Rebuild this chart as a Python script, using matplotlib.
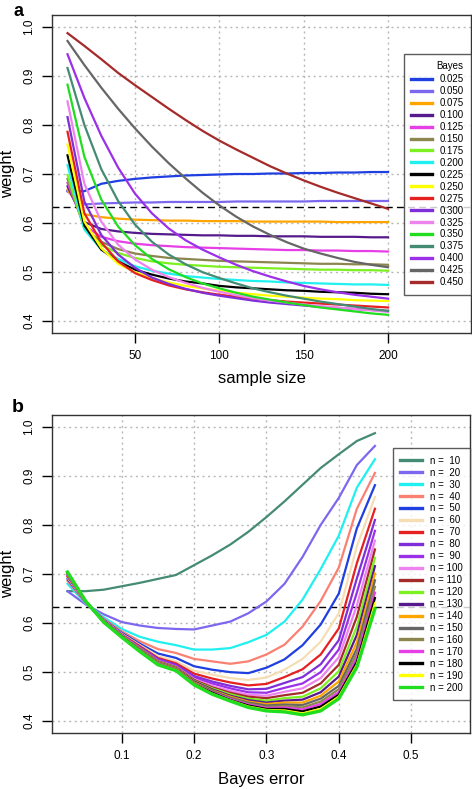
import matplotlib
matplotlib.use("Agg")
import matplotlib.pyplot as plt

plt.rcParams["font.family"] = ["Liberation Sans", "DejaVu Sans"]

sample_sizes = [10, 20, 30, 40, 50, 60, 70, 80, 90, 100,
                110, 120, 130, 140, 150, 160, 170, 180, 190, 200]
bayes_errors = [0.025, 0.05, 0.075, 0.1, 0.125, 0.15, 0.175, 0.2, 0.225,
                0.25, 0.275, 0.3, 0.325, 0.35, 0.375, 0.4, 0.425, 0.45]

# weight per Bayes error, one value per sample size (10..200)
w_025 = [0.665, 0.665, 0.680, 0.686, 0.690, 0.693, 0.695, 0.697, 0.698, 0.699,
         0.700, 0.700, 0.701, 0.701, 0.702, 0.702, 0.703, 0.703, 0.704, 0.704]
w_050 = [0.665, 0.638, 0.640, 0.641, 0.642, 0.642, 0.643, 0.643, 0.643, 0.643,
         0.644, 0.644, 0.644, 0.644, 0.644, 0.645, 0.645, 0.645, 0.645, 0.645]
w_075 = [0.668, 0.618, 0.612, 0.609, 0.607, 0.606, 0.605, 0.605, 0.604, 0.604,
         0.604, 0.603, 0.603, 0.603, 0.603, 0.603, 0.602, 0.602, 0.602, 0.602]
w_100 = [0.675, 0.602, 0.588, 0.583, 0.580, 0.578, 0.577, 0.576, 0.575, 0.575,
         0.574, 0.574, 0.573, 0.573, 0.573, 0.572, 0.572, 0.572, 0.571, 0.571]
w_125 = [0.682, 0.595, 0.572, 0.563, 0.558, 0.555, 0.553, 0.551, 0.550, 0.549,
         0.548, 0.547, 0.546, 0.545, 0.545, 0.544, 0.544, 0.543, 0.543, 0.542]
w_150 = [0.690, 0.590, 0.562, 0.547, 0.538, 0.533, 0.529, 0.527, 0.525, 0.523,
         0.522, 0.521, 0.520, 0.519, 0.518, 0.517, 0.517, 0.516, 0.516, 0.515]
w_175 = [0.698, 0.588, 0.555, 0.539, 0.529, 0.522, 0.518, 0.515, 0.513, 0.511,
         0.510, 0.509, 0.508, 0.507, 0.506, 0.505, 0.505, 0.504, 0.504, 0.503]
w_200 = [0.718, 0.587, 0.546, 0.527, 0.512, 0.503, 0.497, 0.492, 0.489, 0.486,
         0.484, 0.482, 0.481, 0.479, 0.478, 0.477, 0.476, 0.475, 0.475, 0.474]
w_225 = [0.738, 0.595, 0.546, 0.522, 0.505, 0.495, 0.487, 0.481, 0.477, 0.472,
         0.469, 0.467, 0.465, 0.463, 0.462, 0.460, 0.459, 0.458, 0.456, 0.455]
w_250 = [0.760, 0.603, 0.549, 0.517, 0.500, 0.488, 0.479, 0.472, 0.467, 0.462,
         0.458, 0.455, 0.452, 0.450, 0.448, 0.446, 0.445, 0.443, 0.442, 0.441]
w_275 = [0.786, 0.620, 0.561, 0.522, 0.498, 0.484, 0.473, 0.465, 0.459, 0.454,
         0.450, 0.446, 0.443, 0.440, 0.438, 0.436, 0.434, 0.432, 0.430, 0.428]
w_300 = [0.816, 0.644, 0.576, 0.536, 0.509, 0.489, 0.476, 0.466, 0.458, 0.452,
         0.447, 0.442, 0.438, 0.435, 0.432, 0.429, 0.427, 0.425, 0.423, 0.421]
w_325 = [0.848, 0.680, 0.603, 0.556, 0.526, 0.505, 0.490, 0.478, 0.468, 0.460,
         0.453, 0.447, 0.442, 0.438, 0.434, 0.431, 0.428, 0.425, 0.422, 0.419]
w_350 = [0.882, 0.735, 0.648, 0.593, 0.555, 0.527, 0.506, 0.490, 0.477, 0.467,
         0.458, 0.450, 0.444, 0.438, 0.433, 0.428, 0.424, 0.420, 0.416, 0.413]
w_375 = [0.916, 0.800, 0.710, 0.645, 0.597, 0.562, 0.536, 0.516, 0.500, 0.488,
         0.477, 0.467, 0.459, 0.452, 0.446, 0.440, 0.435, 0.430, 0.425, 0.421]
w_400 = [0.944, 0.855, 0.778, 0.713, 0.660, 0.620, 0.589, 0.565, 0.546, 0.530,
         0.515, 0.502, 0.491, 0.481, 0.472, 0.465, 0.459, 0.454, 0.450, 0.446]
w_425 = [0.971, 0.922, 0.876, 0.833, 0.793, 0.756, 0.722, 0.691, 0.662, 0.636,
         0.613, 0.593, 0.576, 0.561, 0.548, 0.538, 0.529, 0.521, 0.515, 0.510]
w_450 = [0.987, 0.961, 0.934, 0.906, 0.881, 0.857, 0.833, 0.810, 0.788, 0.768,
         0.750, 0.733, 0.716, 0.701, 0.687, 0.674, 0.662, 0.651, 0.640, 0.629]

weights = [w_025, w_050, w_075, w_100, w_125, w_150, w_175, w_200, w_225,
           w_250, w_275, w_300, w_325, w_350, w_375, w_400, w_425, w_450]

bayes_colors = ["#1f3fe0", "#7b68ee", "#ffa500", "#551a8b", "#e63fe6", "#8b864e",
                "#7cf020", "#20f0f0", "#000000", "#ffff00", "#e62020", "#7f2fd8",
                "#ee82ee", "#20dd20", "#458b74", "#9b30e8", "#666666", "#a52a2a"]
n_colors = ["#458b74", "#7b68ee", "#20f0f0", "#fa8072", "#1f3fe0", "#f5deb3",
            "#e62020", "#7f2fd8", "#9b30e8", "#ee82ee", "#a52a2a", "#7cf020",
            "#551a8b", "#ffa500", "#666666", "#8b864e", "#e63fe6", "#000000",
            "#ffff00", "#20dd20"]

ref_weight = 0.632


def style_axes(ax, xticks):
    ax.set_yticks([0.4, 0.5, 0.6, 0.7, 0.8, 0.9, 1.0])
    ax.set_yticklabels(["0.4", "0.5", "0.6", "0.7", "0.8", "0.9", "1.0"],
                       rotation=90, va="center")
    ax.set_xticks(xticks)
    ax.set_ylim(0.376, 1.024)
    ax.grid(True, color="#b8b8b8", linestyle=(0, (1.5, 2.5)), linewidth=1)
    ax.set_axisbelow(True)
    ax.tick_params(direction="out", length=7, width=1, labelsize=8.5, pad=5)
    for s in ax.spines.values():
        s.set_color("#333333")
        s.set_linewidth(1)
    ax.axhline(ref_weight, color="black", linestyle=(0, (5, 3)), linewidth=1, zorder=1.5)


def style_legend(leg):
    leg.get_frame().set_edgecolor("#333333")
    leg.get_frame().set_linewidth(1)
    leg._legend_box.sep = 2
    for line in leg.get_lines():
        line.set_linewidth(2.4)


fig = plt.figure(figsize=(4.72, 7.89), dpi=100)

# panel a: weight vs sample size, one line per Bayes error
ax1 = fig.add_axes([52 / 472, 1 - 333 / 789, 419 / 472, 318 / 789])
for i, b in enumerate(bayes_errors):
    ax1.plot(sample_sizes, weights[i], color=bayes_colors[i], lw=1.6, label="%.3f" % b)
ax1.set_xlim(0.8, 249.2)
style_axes(ax1, [50, 100, 150, 200])
ax1.set_xlabel("sample size", fontsize=12)
ax1.set_ylabel("weight", fontsize=12)
ax1.xaxis.set_label_coords(0.5, -0.119)
ax1.yaxis.set_label_coords(-0.088, 0.5)
leg = ax1.legend(loc="upper right", bbox_to_anchor=(1.0, 0.877), title="Bayes",
                 fontsize=7, title_fontsize=7, frameon=True, fancybox=False,
                 borderaxespad=0, handlelength=2.2, handletextpad=0.75,
                 labelspacing=0.2, borderpad=0.75, alignment="right")
style_legend(leg)
fig.text(18 / 472, 1 - 16 / 789, "a", fontsize=13, fontweight="bold", ha="center", va="baseline")

# panel b: weight vs Bayes error, one line per sample size
ax2 = fig.add_axes([52 / 472, 1 - 733 / 789, 418 / 472, 318 / 789])
for j, n in enumerate(sample_sizes):
    col = [row[j] for row in weights]
    ax2.plot(bayes_errors, col, color=n_colors[j], lw=2.4 if n == 200 else 1.6,
             label="n = %3d" % n)
ax2.set_xlim(0.0036, 0.5814)
style_axes(ax2, [0.1, 0.2, 0.3, 0.4, 0.5])
ax2.set_xticklabels(["0.1", "0.2", "0.3", "0.4", "0.5"])
ax2.set_xlabel("Bayes error", fontsize=12)
ax2.set_ylabel("weight", fontsize=12)
ax2.xaxis.set_label_coords(0.5, -0.122)
ax2.yaxis.set_label_coords(-0.088, 0.5)
leg2 = ax2.legend(loc="upper right", bbox_to_anchor=(1.0, 0.895),
                  fontsize=7, frameon=True, fancybox=False, borderaxespad=0,
                  handlelength=2.2, handletextpad=0.85, labelspacing=0.2,
                  borderpad=0.75)
style_legend(leg2)
fig.text(18 / 472, 1 - 412 / 789, "b", fontsize=14, fontweight="bold", ha="center", va="baseline")

fig.savefig("out.png", dpi=100)
